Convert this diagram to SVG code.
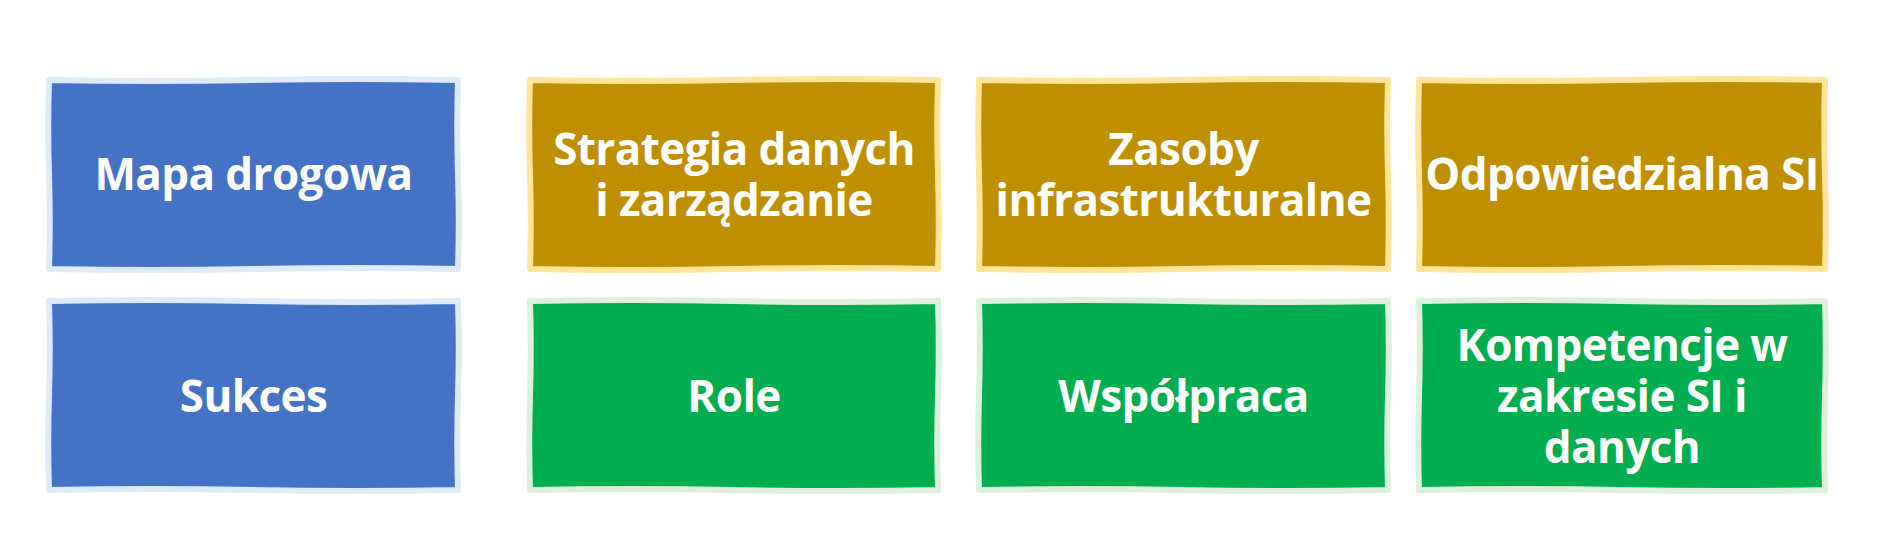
<svg xmlns="http://www.w3.org/2000/svg" width="1899" height="560" viewBox="0 0 1899 560">
<style>
.blue{fill:#4472C4;stroke:#DDEAF7;}
.gold{fill:#BF8F00;stroke:#FFE49A;}
.green{fill:#00AD4F;stroke:#DDF0DC;}
.box{stroke-width:6;stroke-linejoin:round;}
.t{font-family:"Open Sans","Liberation Sans",Arial,sans-serif;font-weight:700;font-size:44px;fill:#FFFFFF;text-anchor:middle;letter-spacing:-0.6px;}
</style>
<rect width="1899" height="560" fill="#FFFFFF"/>
<g id="connectors"></g>
<g id="n1">
<path class="box blue" d="M49 80 q102 2 204.5 0 t204.5 0 q-1.5 47 0 94.5 t0 94.5 q-102 -2 -204.5 0 t-204.5 0 q1.5 -47 0 -94.5 t0 -94.5 z"/>
<text class="t" x="253.5" y="190">Mapa drogowa</text>
</g>
<g id="n2">
<path class="box gold" d="M530 80 q102 2 204 0 t204 0 q-1.5 47 0 94.5 t0 94.5 q-102 -2 -204 0 t-204 0 q1.5 -47 0 -94.5 t0 -94.5 z"/>
<text class="t" x="734" y="165">Strategia danych</text>
<text class="t" x="734" y="216">i zarządzanie</text>
</g>
<g id="n3">
<path class="box gold" d="M979 80 q102 2 204.5 0 t204.5 0 q-1.5 47 0 94.5 t0 94.5 q-102 -2 -204.5 0 t-204.5 0 q1.5 -47 0 -94.5 t0 -94.5 z"/>
<text class="t" x="1183.5" y="165">Zasoby</text>
<text class="t" x="1183.5" y="216">infrastrukturalne</text>
</g>
<g id="n4">
<path class="box gold" d="M1419 80 q101 2 203 0 t203 0 q-1.5 47 0 94.5 t0 94.5 q-101 -2 -203 0 t-203 0 q1.5 -47 0 -94.5 t0 -94.5 z"/>
<text class="t" x="1622" y="190">Odpowiedzialna SI</text>
</g>
<g id="n5">
<path class="box blue" d="M49 301 q102 -2 204.5 0 t204.5 0 q1.5 47 0 94.5 t0 94.5 q-102 2 -204.5 0 t-204.5 0 q-1.5 -47 0 -94.5 t0 -94.5 z"/>
<text class="t" x="253.5" y="411.5">Sukces</text>
</g>
<g id="n6">
<path class="box green" d="M530 301 q102 -2 204 0 t204 0 q1.5 47 0 94.5 t0 94.5 q-102 2 -204 0 t-204 0 q-1.5 -47 0 -94.5 t0 -94.5 z"/>
<text class="t" x="734" y="411.5">Role</text>
</g>
<g id="n7">
<path class="box green" d="M979 301 q102 -2 204.5 0 t204.5 0 q1.5 47 0 94.5 t0 94.5 q-102 2 -204.5 0 t-204.5 0 q-1.5 -47 0 -94.5 t0 -94.5 z"/>
<text class="t" x="1183.5" y="411.5">Współpraca</text>
</g>
<g id="n8">
<path class="box green" d="M1419 301 q101 -2 203 0 t203 0 q1.5 47 0 94.5 t0 94.5 q-101 2 -203 0 t-203 0 q-1.5 -47 0 -94.5 t0 -94.5 z"/>
<text class="t" x="1622" y="360.5">Kompetencje w</text>
<text class="t" x="1622" y="411.5">zakresie SI i</text>
<text class="t" x="1622" y="462.5">danych</text>
</g>
</svg>
